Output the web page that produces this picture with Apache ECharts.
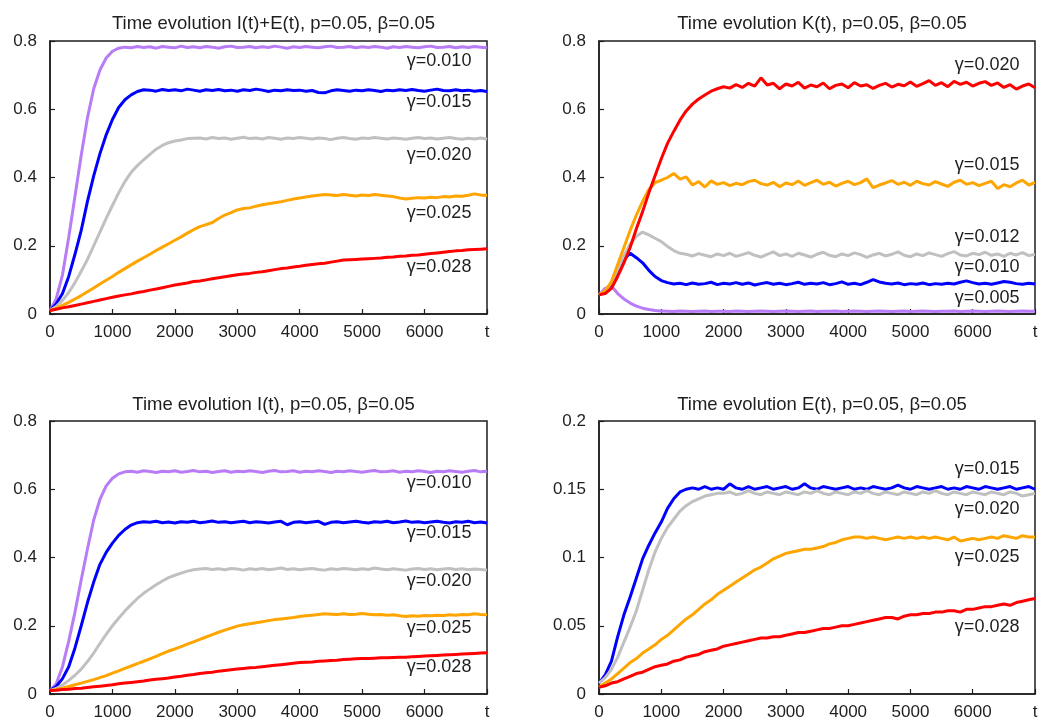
<!DOCTYPE html>
<html>
<head>
<meta charset="utf-8">
<title>Time evolution, p=0.05, β=0.05</title>
<script src="https://cdn.jsdelivr.net/npm/echarts@6/dist/echarts.min.js"></script>
<style>
  html, body { margin: 0; padding: 0; background: #fff; }
  #chart { width: 1043px; height: 722px; }
</style>
</head>
<body>
<div id="chart"></div>
<script>
// Sampling times (t)
const T = [
  0, 100, 200, 300, 400, 500, 600, 700, 800, 900,
  1000, 1100, 1200, 1300, 1400, 1500, 1600, 1700, 1800, 1900,
  2000, 2100, 2200, 2300, 2400, 2500, 2600, 2700, 2800, 2900,
  3000, 3100, 3200, 3300, 3400, 3500, 3600, 3700, 3800, 3900,
  4000, 4100, 4200, 4300, 4400, 4500, 4600, 4700, 4800, 4900,
  5000, 5100, 5200, 5300, 5400, 5500, 5600, 5700, 5800, 5900,
  6000, 6100, 6200, 6300, 6400, 6500, 6600, 6700, 6800, 6900,
  7000
];

// ---- I(t)+E(t) ----
const ie_g010 = [
  0.010, 0.045, 0.115, 0.225, 0.345, 0.465, 0.575, 0.660, 0.715, 0.750,
  0.770, 0.779, 0.782, 0.780, 0.784, 0.781, 0.783, 0.779, 0.784, 0.782,
  0.780, 0.785, 0.781, 0.783, 0.780, 0.784, 0.782, 0.779, 0.783, 0.785,
  0.781, 0.782, 0.784, 0.780, 0.783, 0.781, 0.785, 0.782, 0.779, 0.783,
  0.781, 0.784, 0.782, 0.780, 0.783, 0.785, 0.781, 0.782, 0.784, 0.780,
  0.783, 0.781, 0.784, 0.782, 0.779, 0.783, 0.781, 0.784, 0.782, 0.780,
  0.783, 0.785, 0.781, 0.782, 0.784, 0.780, 0.783, 0.781, 0.784, 0.782,
  0.780
];
const ie_g015 = [
  0.010, 0.030, 0.060, 0.110, 0.175, 0.245, 0.330, 0.405, 0.470, 0.525,
  0.570, 0.605, 0.628, 0.642, 0.652, 0.657, 0.656, 0.653, 0.658, 0.655,
  0.657, 0.654, 0.659, 0.656, 0.653, 0.657, 0.655, 0.658, 0.654, 0.656,
  0.653, 0.657, 0.655, 0.659, 0.656, 0.652, 0.656, 0.654, 0.657, 0.655,
  0.656, 0.653, 0.655, 0.649, 0.648, 0.654, 0.657, 0.655, 0.653, 0.656,
  0.654, 0.657, 0.655, 0.652, 0.656, 0.654, 0.657, 0.655, 0.658, 0.655,
  0.653, 0.656, 0.659, 0.655, 0.654, 0.657, 0.654, 0.656, 0.653, 0.655,
  0.652
];
const ie_g020 = [
  0.010, 0.022, 0.040, 0.063, 0.092, 0.125, 0.160, 0.200, 0.240, 0.280,
  0.318, 0.355, 0.388, 0.415, 0.435, 0.452, 0.468, 0.483, 0.494, 0.502,
  0.507, 0.510, 0.514, 0.515, 0.516, 0.513, 0.517, 0.514, 0.516, 0.512,
  0.515, 0.518, 0.514, 0.516, 0.513, 0.517, 0.515, 0.512, 0.516, 0.514,
  0.517, 0.515, 0.513, 0.516, 0.514, 0.511, 0.515, 0.517, 0.514, 0.512,
  0.516, 0.514, 0.517, 0.515, 0.513, 0.516, 0.514, 0.512, 0.515, 0.517,
  0.514, 0.516, 0.513, 0.515, 0.517, 0.514, 0.512, 0.515, 0.513, 0.516,
  0.512
];
const ie_g025 = [
  0.010, 0.017, 0.025, 0.034, 0.044, 0.054, 0.065, 0.076, 0.088, 0.099,
  0.110, 0.122, 0.133, 0.144, 0.155, 0.165, 0.175, 0.186, 0.196, 0.206,
  0.216, 0.226, 0.237, 0.247, 0.256, 0.262, 0.268, 0.280, 0.290, 0.297,
  0.305, 0.309, 0.311, 0.316, 0.320, 0.323, 0.326, 0.329, 0.333, 0.337,
  0.340, 0.343, 0.346, 0.348, 0.350, 0.349, 0.347, 0.350, 0.348, 0.346,
  0.349, 0.347, 0.350, 0.348, 0.346, 0.344, 0.340, 0.337, 0.339, 0.341,
  0.340, 0.342, 0.341, 0.344, 0.343, 0.346, 0.345, 0.348, 0.352, 0.349,
  0.347
];
const ie_g028 = [
  0.010, 0.014, 0.018, 0.021, 0.025, 0.029, 0.033, 0.037, 0.041, 0.045,
  0.049, 0.053, 0.056, 0.059, 0.063, 0.066, 0.070, 0.073, 0.077, 0.081,
  0.085, 0.088, 0.091, 0.095, 0.097, 0.100, 0.103, 0.106, 0.109, 0.112,
  0.115, 0.117, 0.119, 0.122, 0.124, 0.127, 0.130, 0.133, 0.135, 0.138,
  0.140, 0.143, 0.145, 0.147, 0.149, 0.152, 0.155, 0.158, 0.159, 0.160,
  0.161, 0.162, 0.163, 0.164, 0.166, 0.167, 0.169, 0.170, 0.172, 0.173,
  0.175, 0.177, 0.179, 0.181, 0.183, 0.185, 0.186, 0.188, 0.189, 0.190,
  0.191
];

// ---- K(t) ----
const k_g005 = [
  0.056, 0.075, 0.082, 0.060, 0.044, 0.032, 0.023, 0.017, 0.013, 0.010,
  0.009, 0.008, 0.007, 0.009, 0.008, 0.007, 0.008, 0.009, 0.007, 0.008,
  0.008, 0.007, 0.009, 0.008, 0.007, 0.008, 0.009, 0.008, 0.007, 0.008,
  0.009, 0.008, 0.007, 0.008, 0.009, 0.007, 0.008, 0.008, 0.009, 0.007,
  0.008, 0.009, 0.008, 0.007, 0.008, 0.009, 0.008, 0.007, 0.008, 0.009,
  0.007, 0.008, 0.009, 0.008, 0.007, 0.008, 0.008, 0.009, 0.007, 0.008,
  0.009, 0.008, 0.007, 0.008, 0.009, 0.008, 0.007, 0.008, 0.009, 0.008,
  0.008
];
const k_g010 = [
  0.056, 0.066, 0.090, 0.125, 0.160, 0.178, 0.165, 0.150, 0.128, 0.110,
  0.098, 0.092, 0.088, 0.090, 0.086, 0.091, 0.087, 0.089, 0.093, 0.086,
  0.090, 0.088, 0.092, 0.087, 0.091, 0.085, 0.089, 0.092, 0.087, 0.090,
  0.086, 0.089, 0.093, 0.087, 0.090, 0.088, 0.092, 0.086, 0.089, 0.094,
  0.087, 0.090, 0.086, 0.093, 0.101, 0.094, 0.090, 0.088, 0.091, 0.086,
  0.089, 0.087, 0.091, 0.086, 0.089, 0.087, 0.090, 0.088, 0.093, 0.097,
  0.092, 0.088, 0.090, 0.087, 0.091, 0.095, 0.093, 0.089, 0.087, 0.090,
  0.088
];
const k_g012 = [
  0.056, 0.068, 0.092, 0.130, 0.170, 0.205, 0.228, 0.240, 0.232, 0.222,
  0.212, 0.198, 0.186, 0.178, 0.175, 0.170, 0.177, 0.172, 0.168, 0.176,
  0.171, 0.178, 0.169, 0.174, 0.180, 0.172, 0.167, 0.175, 0.182, 0.171,
  0.176, 0.169, 0.178, 0.173, 0.167, 0.175, 0.181, 0.172, 0.168, 0.176,
  0.171, 0.179, 0.174, 0.166, 0.173, 0.178, 0.170, 0.175, 0.182, 0.172,
  0.168, 0.176, 0.171, 0.179, 0.174, 0.169, 0.177, 0.183, 0.173, 0.170,
  0.178, 0.174, 0.181, 0.172, 0.176, 0.169, 0.178, 0.173, 0.180, 0.171,
  0.175
];
const k_g015 = [
  0.056, 0.068, 0.095, 0.145, 0.195, 0.245, 0.290, 0.330, 0.365, 0.385,
  0.392, 0.400, 0.412, 0.395, 0.402, 0.378, 0.388, 0.372, 0.390, 0.380,
  0.385, 0.376, 0.383, 0.379, 0.388, 0.392, 0.382, 0.378, 0.386, 0.373,
  0.384, 0.379, 0.390, 0.377, 0.385, 0.392, 0.380, 0.386, 0.375, 0.383,
  0.389, 0.379, 0.385, 0.396, 0.370, 0.378, 0.384, 0.391, 0.380, 0.386,
  0.377, 0.389, 0.382, 0.378, 0.388, 0.381, 0.374, 0.386, 0.392, 0.380,
  0.385, 0.376, 0.383, 0.389, 0.368, 0.379, 0.373, 0.384, 0.392, 0.378,
  0.386
];
const k_g020 = [
  0.056, 0.060, 0.075, 0.110, 0.150, 0.195, 0.250, 0.300, 0.355, 0.405,
  0.455, 0.500, 0.535, 0.568, 0.595, 0.615, 0.630, 0.642, 0.653, 0.660,
  0.666, 0.662, 0.672, 0.664, 0.676, 0.668, 0.692, 0.671, 0.676, 0.660,
  0.674, 0.668, 0.679, 0.662, 0.671, 0.666, 0.677, 0.660, 0.670, 0.674,
  0.663, 0.678, 0.668, 0.672, 0.661, 0.670, 0.676, 0.665, 0.673, 0.669,
  0.680, 0.667, 0.675, 0.684, 0.670, 0.678, 0.666, 0.682, 0.673, 0.679,
  0.668, 0.676, 0.681, 0.670, 0.677, 0.664, 0.672, 0.659, 0.668, 0.674,
  0.663
];

// ---- I(t) ----
const i_g010 = [
  0.010, 0.030, 0.080, 0.155, 0.240, 0.335, 0.425, 0.510, 0.570, 0.610,
  0.632, 0.645, 0.651, 0.653, 0.650, 0.654, 0.652, 0.649, 0.653, 0.651,
  0.654, 0.650, 0.652, 0.655, 0.651, 0.653, 0.649, 0.652, 0.654, 0.650,
  0.653, 0.651, 0.654, 0.652, 0.649, 0.653, 0.655, 0.651, 0.652, 0.654,
  0.650, 0.653, 0.651, 0.654, 0.652, 0.649, 0.653, 0.651, 0.654, 0.652,
  0.650, 0.653, 0.655, 0.651, 0.652, 0.654, 0.650, 0.653, 0.651, 0.654,
  0.652, 0.649, 0.653, 0.651, 0.654, 0.652, 0.650, 0.653, 0.655, 0.651,
  0.653
];
const i_g015 = [
  0.010, 0.022, 0.045, 0.080, 0.135, 0.200, 0.268, 0.328, 0.380, 0.415,
  0.442, 0.465, 0.482, 0.495, 0.502, 0.505, 0.503, 0.506, 0.502, 0.504,
  0.501, 0.505, 0.503, 0.506, 0.502, 0.504, 0.507, 0.503, 0.505, 0.502,
  0.504, 0.506, 0.502, 0.505, 0.503, 0.501, 0.504, 0.506, 0.496, 0.503,
  0.505, 0.502, 0.504, 0.506, 0.497, 0.503, 0.505, 0.502, 0.504, 0.506,
  0.503, 0.501, 0.505, 0.503, 0.506, 0.502, 0.504, 0.507, 0.503, 0.505,
  0.502, 0.504, 0.506, 0.503, 0.501, 0.505, 0.503, 0.506, 0.502, 0.504,
  0.501
];
const i_g020 = [
  0.010, 0.016, 0.026, 0.040, 0.055, 0.073, 0.095, 0.120, 0.148, 0.175,
  0.200, 0.222, 0.243, 0.262, 0.280, 0.295, 0.308, 0.320, 0.331, 0.341,
  0.348, 0.354, 0.360, 0.364, 0.366, 0.368, 0.365, 0.367, 0.364, 0.368,
  0.366, 0.363, 0.367, 0.365, 0.368, 0.364, 0.366, 0.369, 0.365, 0.367,
  0.364, 0.366, 0.368, 0.365, 0.363, 0.367, 0.365, 0.368, 0.366, 0.364,
  0.367, 0.365, 0.369, 0.366, 0.364, 0.367, 0.365, 0.363, 0.366, 0.368,
  0.365, 0.367, 0.364, 0.366, 0.368, 0.365, 0.367, 0.364, 0.366, 0.365,
  0.363
];
const i_g025 = [
  0.010, 0.013, 0.017, 0.022, 0.027, 0.032, 0.037, 0.042, 0.048, 0.054,
  0.061, 0.068, 0.075, 0.082, 0.089, 0.096, 0.103, 0.110, 0.118, 0.126,
  0.132, 0.139, 0.146, 0.153, 0.160, 0.167, 0.174, 0.181, 0.187, 0.193,
  0.199, 0.203, 0.206, 0.209, 0.212, 0.215, 0.218, 0.220, 0.222, 0.224,
  0.227, 0.229, 0.231, 0.233, 0.235, 0.234, 0.233, 0.235, 0.233, 0.234,
  0.236, 0.234, 0.232, 0.233, 0.231, 0.232, 0.229, 0.227, 0.229, 0.228,
  0.230, 0.229, 0.231, 0.230, 0.232, 0.231, 0.233, 0.232, 0.235, 0.233,
  0.232
];
const i_g028 = [
  0.010, 0.011, 0.013, 0.014, 0.016, 0.017, 0.019, 0.021, 0.023, 0.025,
  0.027, 0.030, 0.032, 0.034, 0.036, 0.038, 0.041, 0.043, 0.045, 0.047,
  0.050, 0.052, 0.055, 0.057, 0.060, 0.062, 0.064, 0.067, 0.069, 0.071,
  0.073, 0.075, 0.077, 0.078, 0.080, 0.082, 0.084, 0.086, 0.088, 0.090,
  0.092, 0.093, 0.094, 0.096, 0.097, 0.098, 0.099, 0.101, 0.102, 0.103,
  0.104, 0.104, 0.105, 0.106, 0.106, 0.107, 0.108, 0.108, 0.109, 0.110,
  0.111, 0.112, 0.113, 0.114, 0.115, 0.116, 0.117, 0.118, 0.119, 0.120,
  0.121
];

// ---- E(t) ----
const e_g015 = [
  0.008, 0.014, 0.024, 0.042, 0.058, 0.071, 0.085, 0.099, 0.109, 0.118,
  0.126, 0.136, 0.143, 0.148, 0.150, 0.151, 0.150, 0.152, 0.150, 0.151,
  0.150, 0.154, 0.151, 0.150, 0.152, 0.150, 0.151, 0.152, 0.150, 0.151,
  0.152, 0.150, 0.151, 0.154, 0.151, 0.150, 0.152, 0.151, 0.150, 0.151,
  0.152, 0.150, 0.151, 0.150, 0.152, 0.151, 0.150, 0.151, 0.153, 0.151,
  0.150, 0.152, 0.151, 0.150, 0.151, 0.152, 0.150, 0.151, 0.150, 0.152,
  0.151, 0.150, 0.152, 0.151, 0.150, 0.151, 0.152, 0.150, 0.151, 0.152,
  0.150
];
const e_g020 = [
  0.008, 0.012, 0.018, 0.027, 0.038, 0.049, 0.061, 0.076, 0.091, 0.104,
  0.114, 0.122, 0.128, 0.134, 0.138, 0.141, 0.143, 0.145, 0.146, 0.147,
  0.147, 0.148, 0.146, 0.147, 0.149, 0.147, 0.146, 0.148, 0.147, 0.146,
  0.148, 0.147, 0.146, 0.148, 0.147, 0.149, 0.147, 0.146, 0.148, 0.147,
  0.146, 0.148, 0.147, 0.149, 0.147, 0.146, 0.148, 0.147, 0.146, 0.148,
  0.147, 0.146, 0.148, 0.147, 0.149, 0.147, 0.146, 0.148, 0.147, 0.146,
  0.148, 0.147, 0.146, 0.148, 0.147, 0.146, 0.148, 0.147, 0.145, 0.146,
  0.147
];
const e_g025 = [
  0.005, 0.008, 0.011, 0.015, 0.019, 0.023, 0.026, 0.030, 0.033, 0.036,
  0.040, 0.043, 0.047, 0.051, 0.055, 0.058, 0.062, 0.066, 0.069, 0.073,
  0.076, 0.079, 0.082, 0.085, 0.088, 0.091, 0.093, 0.096, 0.099, 0.101,
  0.103, 0.104, 0.105, 0.106, 0.106, 0.107, 0.108, 0.110, 0.111, 0.113,
  0.114, 0.115, 0.115, 0.114, 0.115, 0.114, 0.113, 0.114, 0.115, 0.114,
  0.115, 0.114, 0.115, 0.114, 0.115, 0.114, 0.113, 0.115, 0.112, 0.113,
  0.114, 0.113, 0.114, 0.115, 0.114, 0.116, 0.115, 0.114, 0.116, 0.115,
  0.115
];
const e_g028 = [
  0.005, 0.006, 0.008, 0.009, 0.011, 0.013, 0.015, 0.016, 0.018, 0.020,
  0.021, 0.022, 0.024, 0.025, 0.027, 0.028, 0.029, 0.031, 0.032, 0.033,
  0.035, 0.036, 0.037, 0.038, 0.039, 0.040, 0.041, 0.041, 0.042, 0.042,
  0.043, 0.044, 0.045, 0.045, 0.046, 0.047, 0.048, 0.048, 0.049, 0.050,
  0.050, 0.051, 0.052, 0.053, 0.054, 0.055, 0.056, 0.056, 0.055, 0.057,
  0.058, 0.058, 0.059, 0.059, 0.060, 0.060, 0.061, 0.061, 0.060, 0.062,
  0.062, 0.063, 0.064, 0.064, 0.065, 0.066, 0.065, 0.067, 0.068, 0.069,
  0.070
];

// Curve labels: text and the y value (data units) each one sits at
const ieNames  = ['γ=0.010', 'γ=0.015', 'γ=0.020', 'γ=0.025', 'γ=0.028'];
const ieLabelY = [0.742, 0.622, 0.466, 0.296, 0.139];
const kNames   = ['γ=0.005', 'γ=0.010', 'γ=0.012', 'γ=0.015', 'γ=0.020'];
const kLabelY  = [0.047, 0.139, 0.227, 0.437, 0.730];
const iNames   = ['γ=0.010', 'γ=0.015', 'γ=0.020', 'γ=0.025', 'γ=0.028'];
const iLabelY  = [0.617, 0.471, 0.331, 0.192, 0.080];
const eNames   = ['γ=0.015', 'γ=0.020', 'γ=0.025', 'γ=0.028'];
const eLabelY  = [0.1646, 0.1353, 0.100, 0.0489];

const titles = [
  'Time evolution I(t)+E(t), p=0.05, β=0.05',
  'Time evolution K(t), p=0.05, β=0.05',
  'Time evolution I(t), p=0.05, β=0.05',
  'Time evolution E(t), p=0.05, β=0.05'
];
const yMax  = [0.8, 0.8, 0.8, 0.2];
const yStep = [0.2, 0.2, 0.2, 0.05];

const PURPLE = '#b87cf6', BLUE = '#0000ff', GRAY = '#c0c0c0', ORANGE = '#ffa500', RED = '#ff0000';
const INK = '#1e1e1e';
const FONT = 'Liberation Sans';
const LABEL_T = 6750;

const panels = [
  { lines: [ie_g010, ie_g015, ie_g020, ie_g025, ie_g028], colors: [PURPLE, BLUE, GRAY, ORANGE, RED], names: ieNames, labelY: ieLabelY },
  { lines: [k_g005, k_g010, k_g012, k_g015, k_g020],       colors: [PURPLE, BLUE, GRAY, ORANGE, RED], names: kNames,  labelY: kLabelY },
  { lines: [i_g010, i_g015, i_g020, i_g025, i_g028],       colors: [PURPLE, BLUE, GRAY, ORANGE, RED], names: iNames,  labelY: iLabelY },
  { lines: [e_g015, e_g020, e_g025, e_g028],               colors: [BLUE, GRAY, ORANGE, RED],         names: eNames,  labelY: eLabelY }
];

const grids = [
  { left: 50,  top: 41,  width: 437, height: 273 },
  { left: 599, top: 41,  width: 436, height: 273 },
  { left: 50,  top: 421, width: 437, height: 273 },
  { left: 599, top: 421, width: 436, height: 273 }
];

const titleBoxes = [
  { x: 268.5, y: 9 }, { x: 817, y: 9 }, { x: 268.5, y: 390 }, { x: 817, y: 390 }
];

const option = {
  animation: false,
  backgroundColor: '#fff',
  textStyle: { fontFamily: FONT },
  title: titles.map((text, i) => ({
    text,
    left: titleBoxes[i].x,
    top: titleBoxes[i].y,
    textAlign: 'center',
    textStyle: { fontFamily: FONT, fontSize: 18.5, fontWeight: 'normal', color: INK }
  })),
  grid: grids.map(g => Object.assign({
    show: true, borderColor: INK, borderWidth: 1.5, backgroundColor: 'transparent', containLabel: false
  }, g)),
  xAxis: grids.map((g, i) => ({
    type: 'value', gridIndex: i, min: 0, max: 7000, interval: 1000,
    axisLine: { show: true, lineStyle: { color: INK, width: 1.5 } },
    axisTick: { show: true, inside: true, length: 5, lineStyle: { color: INK, width: 1.2 } },
    splitLine: { show: false },
    axisLabel: {
      margin: 10, fontSize: 17, color: INK, fontFamily: FONT,
      formatter: v => (v === 7000 ? 't' : String(v))
    }
  })),
  yAxis: grids.map((g, i) => ({
    type: 'value', gridIndex: i, min: 0, max: yMax[i], interval: yStep[i],
    axisLine: { show: true, lineStyle: { color: INK, width: 1.5 } },
    axisTick: { show: true, inside: true, length: 5, lineStyle: { color: INK, width: 1.2 } },
    splitLine: { show: false },
    axisLabel: { margin: 13, fontSize: 17, color: INK, fontFamily: FONT }
  })),
  series: []
};

panels.forEach((p, gi) => {
  p.lines.forEach((vals, k) => {
    option.series.push({
      type: 'line',
      name: p.names[k],
      xAxisIndex: gi, yAxisIndex: gi,
      data: T.map((t, j) => [t, vals[j]]),
      showSymbol: false,
      symbol: 'none',
      lineStyle: { color: p.colors[k], width: 3 },
      itemStyle: { color: p.colors[k] },
      silent: true,
      markPoint: {
        silent: true,
        symbol: 'circle',
        symbolSize: 0,
        data: [{ coord: [LABEL_T, p.labelY[k]], value: p.names[k] }],
        label: {
          show: true, position: 'left', distance: 0,
          formatter: p.names[k],
          fontSize: 18, color: INK, fontFamily: FONT
        }
      }
    });
  });
});

const chart = echarts.init(document.getElementById('chart'), null, { renderer: 'canvas' });
chart.setOption(option);
</script>
</body>
</html>
